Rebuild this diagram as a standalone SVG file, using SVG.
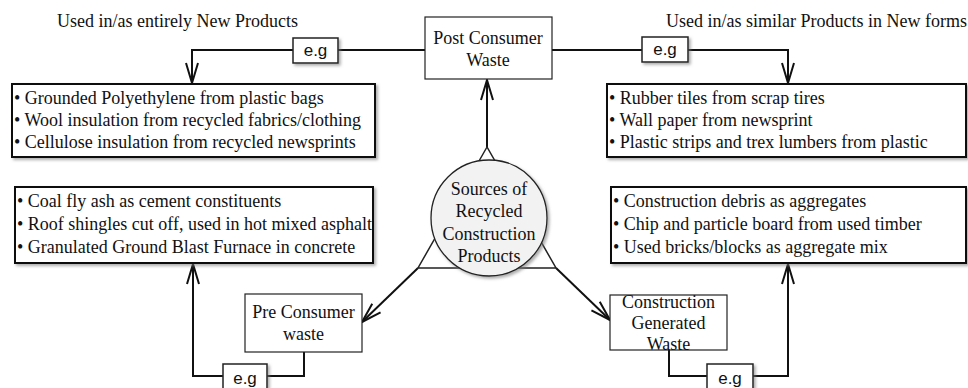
<svg xmlns="http://www.w3.org/2000/svg" width="968" height="388" viewBox="0 0 968 388">
<style>
.t{font-family:"Liberation Serif","Times New Roman",serif;font-size:18px;fill:#111}
.c{text-anchor:middle}
.eg{font-family:"Liberation Sans",Arial,sans-serif;font-size:17px;fill:#111;text-anchor:middle}
.list{fill:#fff;stroke:#111;stroke-width:2}
.node{fill:#fff;stroke:#222;stroke-width:1.2}
.egb{fill:#fff;stroke:#222;stroke-width:1.5}
.ln{fill:none;stroke:#111;stroke-width:2}
.tri{fill:none;stroke:#222;stroke-width:1.5}
</style>
<defs>
<filter id="sh" x="-10%" y="-10%" width="130%" height="140%">
<feDropShadow dx="2" dy="2" stdDeviation="1.5" flood-color="#777" flood-opacity="0.6"/>
</filter>
<marker id="ar" viewBox="-22 -8 24 16" markerWidth="24" markerHeight="16" refX="0" refY="0" markerUnits="userSpaceOnUse" orient="auto">
<path d="M-20,-6 L0,0 L-20,6" fill="none" stroke="#111" stroke-width="2"/>
</marker>
</defs>
<rect width="968" height="388" fill="#fff"/>

<text class="t" x="57" y="27">Used in/as entirely New Products</text>
<text class="t" x="967" y="27" text-anchor="end">Used in/as similar Products in New forms</text>

<g id="connectors">
<path class="ln" d="M425,50 H192 V83" marker-end="url(#ar)"/>
<path class="ln" d="M552,50 H788 V83" marker-end="url(#ar)"/>
<path class="ln" d="M487,147 V80" marker-end="url(#ar)"/>
<path class="ln" d="M418,268 L362,322" marker-end="url(#ar)"/>
<path class="ln" d="M556,268 L610,320" marker-end="url(#ar)"/>
<path class="ln" d="M304,352 V376 H193 V264" marker-end="url(#ar)"/>
<path class="ln" d="M669,350 V376 H788 V264" marker-end="url(#ar)"/>
</g>

<g id="eg1"><rect class="egb" x="293" y="38" width="45" height="25" filter="url(#sh)"/><text class="eg" x="315.5" y="56">e.g</text></g>
<g id="eg2"><rect class="egb" x="642" y="37" width="46" height="25" filter="url(#sh)"/><text class="eg" x="665" y="55">e.g</text></g>
<g id="eg3"><rect class="egb" x="223" y="364" width="44" height="27" filter="url(#sh)"/><text class="eg" x="245" y="384">e.g</text></g>
<g id="eg4"><rect class="egb" x="707" y="364" width="46" height="27" filter="url(#sh)"/><text class="eg" x="730" y="384">e.g</text></g>

<g id="post">
<rect class="node" x="425" y="17" width="127" height="62"/>
<text class="t c" x="488" y="44">Post Consumer</text>
<text class="t c" x="488" y="66">Waste</text>
</g>

<g id="source">
<path class="tri" d="M487,147 L418,268 L556,268 Z"/>
<circle cx="489" cy="218" r="58" fill="#f2f2f2" stroke="#222" stroke-width="1.3" filter="url(#sh)"/>
<text class="t c" x="489" y="195">Sources of</text>
<text class="t c" x="489" y="217">Recycled</text>
<text class="t c" x="489" y="240">Construction</text>
<text class="t c" x="489" y="262">Products</text>
</g>

<g id="pre">
<rect class="node" x="245" y="294" width="117" height="58"/>
<text class="t c" x="303.5" y="318">Pre Consumer</text>
<text class="t c" x="303.5" y="340">waste</text>
</g>

<g id="cgw">
<rect class="node" x="610" y="295" width="117" height="55"/>
<text class="t c" x="668.5" y="308">Construction</text>
<text class="t c" x="668.5" y="329">Generated</text>
<text class="t c" x="668.5" y="350">Waste</text>
</g>

<g id="list-new">
<rect class="list" x="12" y="84" width="363" height="73" filter="url(#sh)"/>
<text class="t" x="14" y="104">• Grounded Polyethylene from plastic bags</text>
<text class="t" x="14" y="126">• Wool insulation from recycled fabrics/clothing</text>
<text class="t" x="14" y="148">• Cellulose insulation from recycled newsprints</text>
</g>

<g id="list-similar">
<rect class="list" x="607" y="84" width="359" height="73" filter="url(#sh)"/>
<text class="t" x="609" y="104">• Rubber tiles from scrap tires</text>
<text class="t" x="609" y="126">• Wall paper from newsprint</text>
<text class="t" x="609" y="148">• Plastic strips and trex lumbers from plastic</text>
</g>

<g id="list-pre">
<rect class="list" x="15" y="187" width="358" height="76" filter="url(#sh)"/>
<text class="t" x="17" y="207">• Coal fly ash as cement constituents</text>
<text class="t" x="17" y="230">• Roof shingles cut off, used in hot mixed asphalt</text>
<text class="t" x="17" y="253">• Granulated Ground Blast Furnace in concrete</text>
</g>

<g id="list-cgw">
<rect class="list" x="611" y="187" width="355" height="76" filter="url(#sh)"/>
<text class="t" x="613" y="207">• Construction debris as aggregates</text>
<text class="t" x="613" y="230">• Chip and particle board from used timber</text>
<text class="t" x="613" y="253">• Used bricks/blocks as aggregate mix</text>
</g>
</svg>
